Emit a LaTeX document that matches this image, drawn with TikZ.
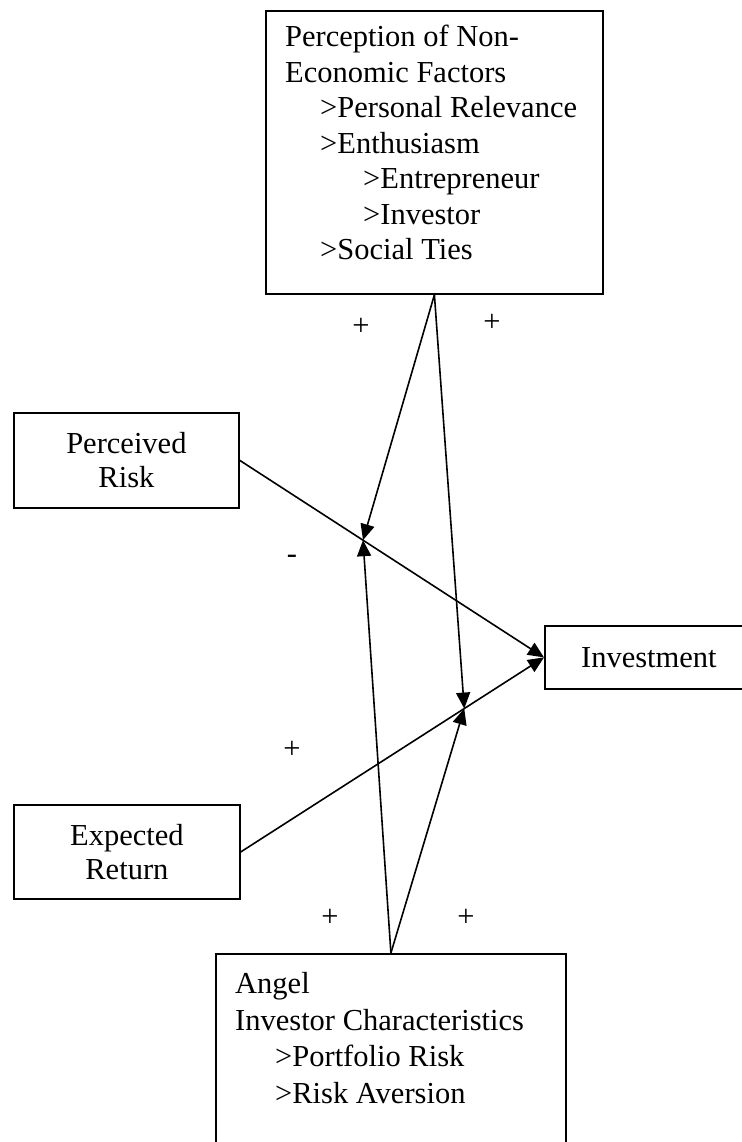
\documentclass[tikz,border=0pt]{standalone}
\usepackage{fontspec}
\setmainfont{Liberation Serif}
\usetikzlibrary{arrows.meta,calc,positioning}

\begin{document}
\begin{tikzpicture}[x=1pt,y=-1pt,
    box/.style={draw,line width=1.8pt,inner sep=0,align=center,
      font=\fontsize{30.5}{34}\selectfont},
    txt/.style={inner sep=0,align=left,font=\fontsize{30.5}{35.5}\selectfont},
    sgn/.style={inner sep=0,font=\fontsize{30.5}{35.5}\selectfont},
    arr/.style={line width=1.6pt,-{Triangle[length=16pt,width=14pt]}}]
    \useasboundingbox (0,0) rectangle (741,1142);

    % boxes
    \node[box,minimum width=337pt,minimum height=283pt,anchor=north west] (noneco) at (265,10) {};
    \node[txt,anchor=north west] (noneco_text) at (285,25) {Perception of Non-\\Economic Factors\\
      \hspace{35pt}>Personal Relevance\\\hspace{35pt}>Enthusiasm\\
      \hspace{78pt}>Entrepreneur\\\hspace{78pt}>Investor\\\hspace{35pt}>Social Ties};

    \node[box,minimum width=225pt,minimum height=95pt,anchor=north west] (prisk) at (13,412) {Perceived\\Risk};
    \node[box,minimum width=226pt,minimum height=94pt,anchor=north west] (eret) at (13,804) {Expected\\Return};
    \node[box,minimum width=208pt,minimum height=63pt,anchor=north west] (invest) at (544,625) {Investment};

    \node[box,minimum width=350pt,minimum height=230pt,anchor=north west] (angel) at (215,953) {};
    \node[txt,anchor=north west,font=\fontsize{30.5}{36.7}\selectfont] (angel_text) at (235,972)
      {Angel\\Investor Characteristics\\\hspace{40pt}>Portfolio Risk\\\hspace{40pt}>Risk Aversion};

    % moderation points on the paths
    \coordinate (riskpt) at ($(prisk.east)!0.405!(invest.west)$);
    \coordinate (retpt) at ($(eret.east)!0.737!(invest.west)$);

    \draw[arr] (prisk.east) -- (invest.west);
    \draw[arr] (eret.east) -- (invest.west);
    \draw[arr] (noneco.south) -- (riskpt);
    \draw[arr] (noneco.south) -- (retpt);
    \draw[arr] (angel.north) -- (riskpt);
    \draw[arr] (angel.north) -- (retpt);

    % signs
    \node[sgn] (sign_a) at (361,327) {+};
    \node[sgn] (sign_b) at (492,323) {+};
    \node[sgn] (sign_c) at (292,559) {-};
    \node[sgn] (sign_d) at (292,750) {+};
    \node[sgn] (sign_e) at (330,918) {+};
    \node[sgn] (sign_f) at (466,918) {+};

\end{tikzpicture}
\end{document}
